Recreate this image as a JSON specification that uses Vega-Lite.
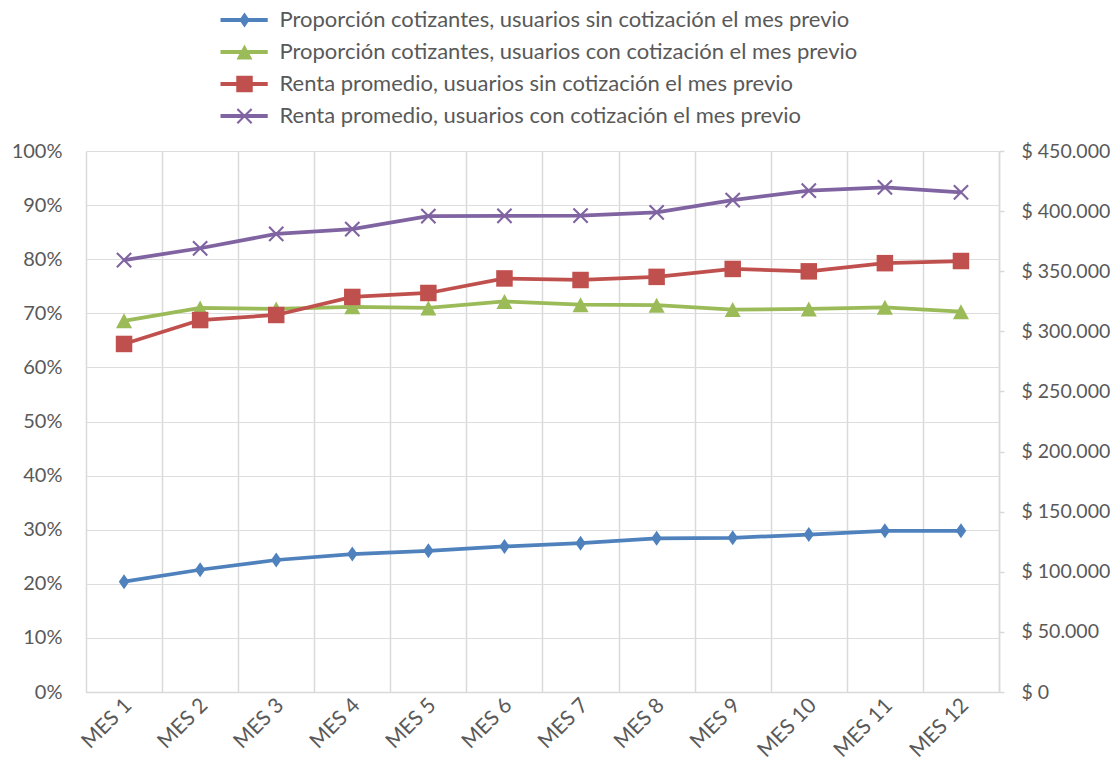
{
  "$schema": "https://vega.github.io/schema/vega-lite/v6.json",
  "width": 913,
  "height": 541,
  "autosize": "none",
  "padding": {"left": 86, "top": 151, "right": 121, "bottom": 89},
  "background": "white",
  "config": {
    "view": {"stroke": null},
    "font": "Lato",
    "axis": {"labelFont": "Lato", "labelColor": "#595959", "labelFontSize": 20, "title": null, "domainColor": "#D9D9D9", "tickColor": "#D9D9D9", "domainWidth": 1.5, "tickWidth": 1.5},
    "legend": {"labelFont": "Lato", "labelFontSize": 22, "labelColor": "#595959", "labelLimit": 900, "padding": 0, "rowPadding": 10, "labelOffset": 24, "symbolSize": 225, "orient": "none", "legendX": 147.5, "legendY": -142, "title": null, "direction": "vertical", "symbolLimit": 0}
  },
  "data": {"values": [
    {"mes": "MES 1", "k": "A", "serie": "Proporción cotizantes, usuarios sin cotización el mes previo", "v": 0.204},
    {"mes": "MES 2", "k": "A", "serie": "Proporción cotizantes, usuarios sin cotización el mes previo", "v": 0.226},
    {"mes": "MES 3", "k": "A", "serie": "Proporción cotizantes, usuarios sin cotización el mes previo", "v": 0.244},
    {"mes": "MES 4", "k": "A", "serie": "Proporción cotizantes, usuarios sin cotización el mes previo", "v": 0.255},
    {"mes": "MES 5", "k": "A", "serie": "Proporción cotizantes, usuarios sin cotización el mes previo", "v": 0.261},
    {"mes": "MES 6", "k": "A", "serie": "Proporción cotizantes, usuarios sin cotización el mes previo", "v": 0.269},
    {"mes": "MES 7", "k": "A", "serie": "Proporción cotizantes, usuarios sin cotización el mes previo", "v": 0.275},
    {"mes": "MES 8", "k": "A", "serie": "Proporción cotizantes, usuarios sin cotización el mes previo", "v": 0.284},
    {"mes": "MES 9", "k": "A", "serie": "Proporción cotizantes, usuarios sin cotización el mes previo", "v": 0.285},
    {"mes": "MES 10", "k": "A", "serie": "Proporción cotizantes, usuarios sin cotización el mes previo", "v": 0.291},
    {"mes": "MES 11", "k": "A", "serie": "Proporción cotizantes, usuarios sin cotización el mes previo", "v": 0.298},
    {"mes": "MES 12", "k": "A", "serie": "Proporción cotizantes, usuarios sin cotización el mes previo", "v": 0.298},
    {"mes": "MES 1", "k": "B", "serie": "Proporción cotizantes, usuarios con cotización el mes previo", "v": 0.686},
    {"mes": "MES 2", "k": "B", "serie": "Proporción cotizantes, usuarios con cotización el mes previo", "v": 0.710},
    {"mes": "MES 3", "k": "B", "serie": "Proporción cotizantes, usuarios con cotización el mes previo", "v": 0.708},
    {"mes": "MES 4", "k": "B", "serie": "Proporción cotizantes, usuarios con cotización el mes previo", "v": 0.712},
    {"mes": "MES 5", "k": "B", "serie": "Proporción cotizantes, usuarios con cotización el mes previo", "v": 0.710},
    {"mes": "MES 6", "k": "B", "serie": "Proporción cotizantes, usuarios con cotización el mes previo", "v": 0.722},
    {"mes": "MES 7", "k": "B", "serie": "Proporción cotizantes, usuarios con cotización el mes previo", "v": 0.716},
    {"mes": "MES 8", "k": "B", "serie": "Proporción cotizantes, usuarios con cotización el mes previo", "v": 0.715},
    {"mes": "MES 9", "k": "B", "serie": "Proporción cotizantes, usuarios con cotización el mes previo", "v": 0.707},
    {"mes": "MES 10", "k": "B", "serie": "Proporción cotizantes, usuarios con cotización el mes previo", "v": 0.708},
    {"mes": "MES 11", "k": "B", "serie": "Proporción cotizantes, usuarios con cotización el mes previo", "v": 0.711},
    {"mes": "MES 12", "k": "B", "serie": "Proporción cotizantes, usuarios con cotización el mes previo", "v": 0.703},
    {"mes": "MES 1", "k": "C", "serie": "Renta promedio, usuarios sin cotización el mes previo", "v": 289500},
    {"mes": "MES 2", "k": "C", "serie": "Renta promedio, usuarios sin cotización el mes previo", "v": 309400},
    {"mes": "MES 3", "k": "C", "serie": "Renta promedio, usuarios sin cotización el mes previo", "v": 313600},
    {"mes": "MES 4", "k": "C", "serie": "Renta promedio, usuarios sin cotización el mes previo", "v": 328600},
    {"mes": "MES 5", "k": "C", "serie": "Renta promedio, usuarios sin cotización el mes previo", "v": 331900},
    {"mes": "MES 6", "k": "C", "serie": "Renta promedio, usuarios sin cotización el mes previo", "v": 344000},
    {"mes": "MES 7", "k": "C", "serie": "Renta promedio, usuarios sin cotización el mes previo", "v": 342700},
    {"mes": "MES 8", "k": "C", "serie": "Renta promedio, usuarios sin cotización el mes previo", "v": 345300},
    {"mes": "MES 9", "k": "C", "serie": "Renta promedio, usuarios sin cotización el mes previo", "v": 351900},
    {"mes": "MES 10", "k": "C", "serie": "Renta promedio, usuarios sin cotización el mes previo", "v": 349900},
    {"mes": "MES 11", "k": "C", "serie": "Renta promedio, usuarios sin cotización el mes previo", "v": 356700},
    {"mes": "MES 12", "k": "C", "serie": "Renta promedio, usuarios sin cotización el mes previo", "v": 358500},
    {"mes": "MES 1", "k": "D", "serie": "Renta promedio, usuarios con cotización el mes previo", "v": 359300},
    {"mes": "MES 2", "k": "D", "serie": "Renta promedio, usuarios con cotización el mes previo", "v": 369100},
    {"mes": "MES 3", "k": "D", "serie": "Renta promedio, usuarios con cotización el mes previo", "v": 381000},
    {"mes": "MES 4", "k": "D", "serie": "Renta promedio, usuarios con cotización el mes previo", "v": 385100},
    {"mes": "MES 5", "k": "D", "serie": "Renta promedio, usuarios con cotización el mes previo", "v": 395900},
    {"mes": "MES 6", "k": "D", "serie": "Renta promedio, usuarios con cotización el mes previo", "v": 396100},
    {"mes": "MES 7", "k": "D", "serie": "Renta promedio, usuarios con cotización el mes previo", "v": 396300},
    {"mes": "MES 8", "k": "D", "serie": "Renta promedio, usuarios con cotización el mes previo", "v": 399000},
    {"mes": "MES 9", "k": "D", "serie": "Renta promedio, usuarios con cotización el mes previo", "v": 409200},
    {"mes": "MES 10", "k": "D", "serie": "Renta promedio, usuarios con cotización el mes previo", "v": 417000},
    {"mes": "MES 11", "k": "D", "serie": "Renta promedio, usuarios con cotización el mes previo", "v": 419800},
    {"mes": "MES 12", "k": "D", "serie": "Renta promedio, usuarios con cotización el mes previo", "v": 415600}
  ]},
  "encoding": {
    "x": {
      "field": "mes", "type": "nominal", "sort": null,
      "scale": {"paddingInner": 0, "paddingOuter": 0},
      "axis": {"labelAngle": -45, "labelAlign": "right", "labelBaseline": "middle", "labelPadding": 10, "labelFontSize": 21, "labelOffset": 4, "grid": true, "gridColor": "#D9D9D9", "gridWidth": 1.5, "ticks": false, "tickBand": "extent", "domain": true}
    }
  },
  "layer": [
    {
      "transform": [{"filter": "datum.k == 'A' || datum.k == 'B'"}],
      "encoding": {
        "y": {"field": "v", "type": "quantitative", "scale": {"domain": [0, 1], "nice": false}, "axis": {"orient": "left", "format": ".0%", "values": [0, 0.1, 0.2, 0.3, 0.4, 0.5, 0.6, 0.7, 0.8, 0.9, 1], "domain": false, "ticks": false, "labelPadding": 24}}
      },
      "layer": [
        {"mark": {"type": "line", "strokeWidth": 3.75},
         "encoding": {"color": {"field": "serie", "type": "nominal",
           "scale": {"domain": ["Proporción cotizantes, usuarios sin cotización el mes previo", "Proporción cotizantes, usuarios con cotización el mes previo", "Renta promedio, usuarios sin cotización el mes previo", "Renta promedio, usuarios con cotización el mes previo"], "range": ["#4F81BD", "#9BBB59", "#C0504D", "#8064A2"]},
           "legend": {"symbolType": "M-3.2,0H3.1", "symbolStrokeWidth": 4}}}},
        {"mark": {"type": "point", "filled": true, "size": 225, "opacity": 1, "strokeWidth": 0},
         "encoding": {
           "fill": {"field": "k", "type": "nominal", "scale": {"domain": ["A", "B", "C", "D"], "range": ["#4F81BD", "#9BBB59", "#C0504D", "#8064A2"]}, "legend": {"labelExpr": "''", "symbolStrokeWidth": 0}},
           "shape": {"field": "k", "type": "nominal", "scale": {"domain": ["A", "B", "C", "D"], "range": ["M0,-1L0.7,0L0,1L-0.7,0Z", "M0,-1L1.07,1L-1.07,1Z", "M-1.1,-1.1H1.1V1.1H-1.1Z", "M-0.85,-1.05L0,-0.2L0.85,-1.05L1.05,-0.85L0.2,0L1.05,0.85L0.85,1.05L0,0.2L-0.85,1.05L-1.05,0.85L-0.2,0L-1.05,-0.85Z"]}, "legend": {"labelExpr": "''", "symbolStrokeWidth": 0}}
         }}
      ]
    },
    {
      "transform": [{"filter": "datum.k == 'C' || datum.k == 'D'"}],
      "encoding": {
        "y": {"field": "v", "type": "quantitative", "scale": {"domain": [0, 450000], "nice": false}, "axis": {"orient": "right", "values": [0, 50000, 100000, 150000, 200000, 250000, 300000, 350000, 400000, 450000], "labelExpr": "'$ ' + replace(format(datum.value, ','), ',', '.')", "labelFontSize": 19.5, "domain": true, "ticks": true, "tickSize": 5, "labelPadding": 17}}
      },
      "layer": [
        {"mark": {"type": "line", "strokeWidth": 3.75},
         "encoding": {"color": {"field": "serie", "type": "nominal"}}},
        {"mark": {"type": "point", "filled": true, "size": 225, "opacity": 1, "strokeWidth": 0},
         "encoding": {
           "fill": {"field": "k", "type": "nominal"},
           "shape": {"field": "k", "type": "nominal"}
         }}
      ]
    }
  ],
  "resolve": {"scale": {"y": "independent"}}
}
